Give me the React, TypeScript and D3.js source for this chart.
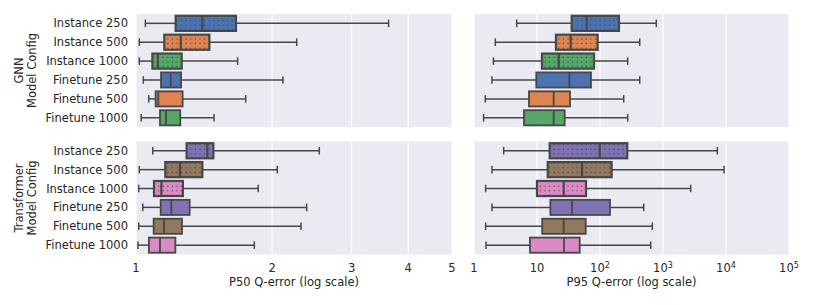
import React from "react";
import * as d3 from "d3";

const configs = ["Instance 250", "Instance 500", "Instance 1000", "Finetune 250", "Finetune 500", "Finetune 1000"];

// [low whisker, q1, median, q3, high whisker]
const gnnP50 = [
  [1.049, 1.224, 1.402, 1.664, 3.62],
  [1.017, 1.155, 1.256, 1.453, 2.267],
  [1.017, 1.087, 1.117, 1.262, 1.678],
  [1.038, 1.136, 1.193, 1.258, 2.114],
  [1.067, 1.105, 1.12, 1.268, 1.748],
  [1.027, 1.13, 1.165, 1.253, 1.488],
];
const gnnP95 = [
  [4.76, 35.5, 61.4, 200, 783],
  [2.18, 20, 34.2, 91.8, 427],
  [2.03, 12, 22.1, 80.3, 275],
  [1.93, 9.75, 32.6, 71.9, 427],
  [1.51, 7.46, 18.4, 33.4, 238],
  [1.42, 6.22, 18.4, 27.5, 275],
];
const trP50 = [
  [1.089, 1.294, 1.438, 1.483, 2.544],
  [1.017, 1.161, 1.251, 1.402, 2.054],
  [1.014, 1.096, 1.138, 1.27, 1.864],
  [1.035, 1.134, 1.197, 1.314, 2.385],
  [1.014, 1.094, 1.153, 1.264, 2.317],
  [1.01, 1.068, 1.13, 1.222, 1.827],
];
const trP95 = [
  [2.96, 15.9, 98.9, 271, 7280],
  [1.93, 14.8, 51.8, 153, 9300],
  [1.53, 10, 26.5, 60, 2750],
  [1.93, 16.3, 35.9, 144, 494],
  [1.53, 12.1, 26.5, 59.3, 676],
  [1.55, 7.74, 26.8, 47.6, 638],
];

const gnnColors = ["#4C72B0", "#DD8452", "#55A868", "#4C72B0", "#DD8452", "#55A868"];
const trColors = ["#8172B3", "#937860", "#DA8BC3", "#8172B3", "#937860", "#DA8BC3"];

const p50Ticks = [1, 2, 3, 4, 5];
const p95Ticks = [1, 10, 100, 1000, 10000, 100000];

const textColor = "#262626";
const edge = "#474747";

function Panel({ data, colors, x, y, ticks }) {
  const [x0, x1] = x.range();
  const [y0, y1] = y.range();
  const bh = y.bandwidth() * 0.8;
  return (
    <g>
      <rect x={x0} y={y0} width={x1 - x0} height={y1 - y0} fill="#EAEAF2" />
      {ticks.map((t) => (
        <line key={t} x1={x(t)} x2={x(t)} y1={y0} y2={y1} stroke="#fff" strokeWidth={1.2} />
      ))}
      {data.map((d, i) => {
        const cy = y(configs[i]) + y.bandwidth() / 2;
        const inst = i < 3;
        const sw = inst ? 2.2 : 1.8;
        return (
          <g key={i}>
            <line x1={x(d[0])} x2={x(d[1])} y1={cy} y2={cy} stroke={edge} strokeWidth={1.5} />
            <line x1={x(d[3])} x2={x(d[4])} y1={cy} y2={cy} stroke={edge} strokeWidth={1.5} />
            <line x1={x(d[0])} x2={x(d[0])} y1={cy - bh / 4} y2={cy + bh / 4} stroke={edge} strokeWidth={1.5} />
            <line x1={x(d[4])} x2={x(d[4])} y1={cy - bh / 4} y2={cy + bh / 4} stroke={edge} strokeWidth={1.5} />
            <rect x={x(d[1])} y={cy - bh / 2} width={x(d[3]) - x(d[1])} height={bh} fill={colors[i]} />
            {inst && (
              <rect x={x(d[1])} y={cy - bh / 2} width={x(d[3]) - x(d[1])} height={bh} fill="url(#dots)" />
            )}
            <rect x={x(d[1])} y={cy - bh / 2} width={x(d[3]) - x(d[1])} height={bh} fill="none" stroke={edge} strokeWidth={sw} />
            <line x1={x(d[2])} x2={x(d[2])} y1={cy - bh / 2} y2={cy + bh / 2} stroke={edge} strokeWidth={sw} />
          </g>
        );
      })}
    </g>
  );
}

export default function App() {
  const xL = d3.scaleLog().domain([1, 5]).range([136, 452]);
  const xR = d3.scaleLog().domain([1, 100000]).range([474, 789]);
  const yTop = d3.scaleBand().domain(configs).range([13.9, 127.2]);
  const yBot = d3.scaleBand().domain(configs).range([141.3, 254.6]);
  const font = "DejaVu Sans, sans-serif";
  const fs = 11.5;

  const rowLabels = (y) =>
    configs.map((c) => (
      <text key={c} x={128} y={y(c) + y.bandwidth() / 2} dy="0.35em" textAnchor="end" fontSize={fs} fill={textColor}>
        {c}
      </text>
    ));

  const yTitle = (lines, cy) => (
    <text transform={`translate(26,${cy}) rotate(-90)`} textAnchor="middle" fontSize={fs} fill={textColor}>
      <tspan x={0} dy="-0.25em">{lines[0]}</tspan>
      <tspan x={0} dy="1.15em">{lines[1]}</tspan>
    </text>
  );

  const sup = (t) => {
    const e = Math.round(Math.log10(t));
    if (e < 2) return String(t);
    return (
      <>
        10
        <tspan fontSize={fs * 0.7} dy="-0.45em">{e}</tspan>
      </>
    );
  };

  return (
    <svg width={814} height={305} style={{ position: "absolute", left: 0, top: 0, fontFamily: font }}>
      <defs>
        <pattern id="dots" width={4.6} height={4.6} patternUnits="userSpaceOnUse">
          <rect x={1.6} y={1.6} width={1.1} height={1.1} fill="#3a3a3a" />
        </pattern>
      </defs>
      <rect width={814} height={305} fill="#fff" />
      <Panel data={gnnP50} colors={gnnColors} x={xL} y={yTop} ticks={p50Ticks} />
      <Panel data={gnnP95} colors={gnnColors} x={xR} y={yTop} ticks={p95Ticks} />
      <Panel data={trP50} colors={trColors} x={xL} y={yBot} ticks={p50Ticks} />
      <Panel data={trP95} colors={trColors} x={xR} y={yBot} ticks={p95Ticks} />
      {rowLabels(yTop)}
      {rowLabels(yBot)}
      {yTitle(["GNN", "Model Config"], 70.5)}
      {yTitle(["Transformer", "Model Config"], 198)}
      {p50Ticks.map((t) => (
        <text key={t} x={xL(t)} y={272} textAnchor="middle" fontSize={fs} fill={textColor}>
          {t}
        </text>
      ))}
      {p95Ticks.map((t) => (
        <text key={t} x={xR(t)} y={272} textAnchor="middle" fontSize={fs} fill={textColor}>
          {sup(t)}
        </text>
      ))}
      <text x={(136 + 452) / 2} y={286} textAnchor="middle" fontSize={fs} fill={textColor}>
        P50 Q-error (log scale)
      </text>
      <text x={(474 + 789) / 2} y={286} textAnchor="middle" fontSize={fs} fill={textColor}>
        P95 Q-error (log scale)
      </text>
    </svg>
  );
}
